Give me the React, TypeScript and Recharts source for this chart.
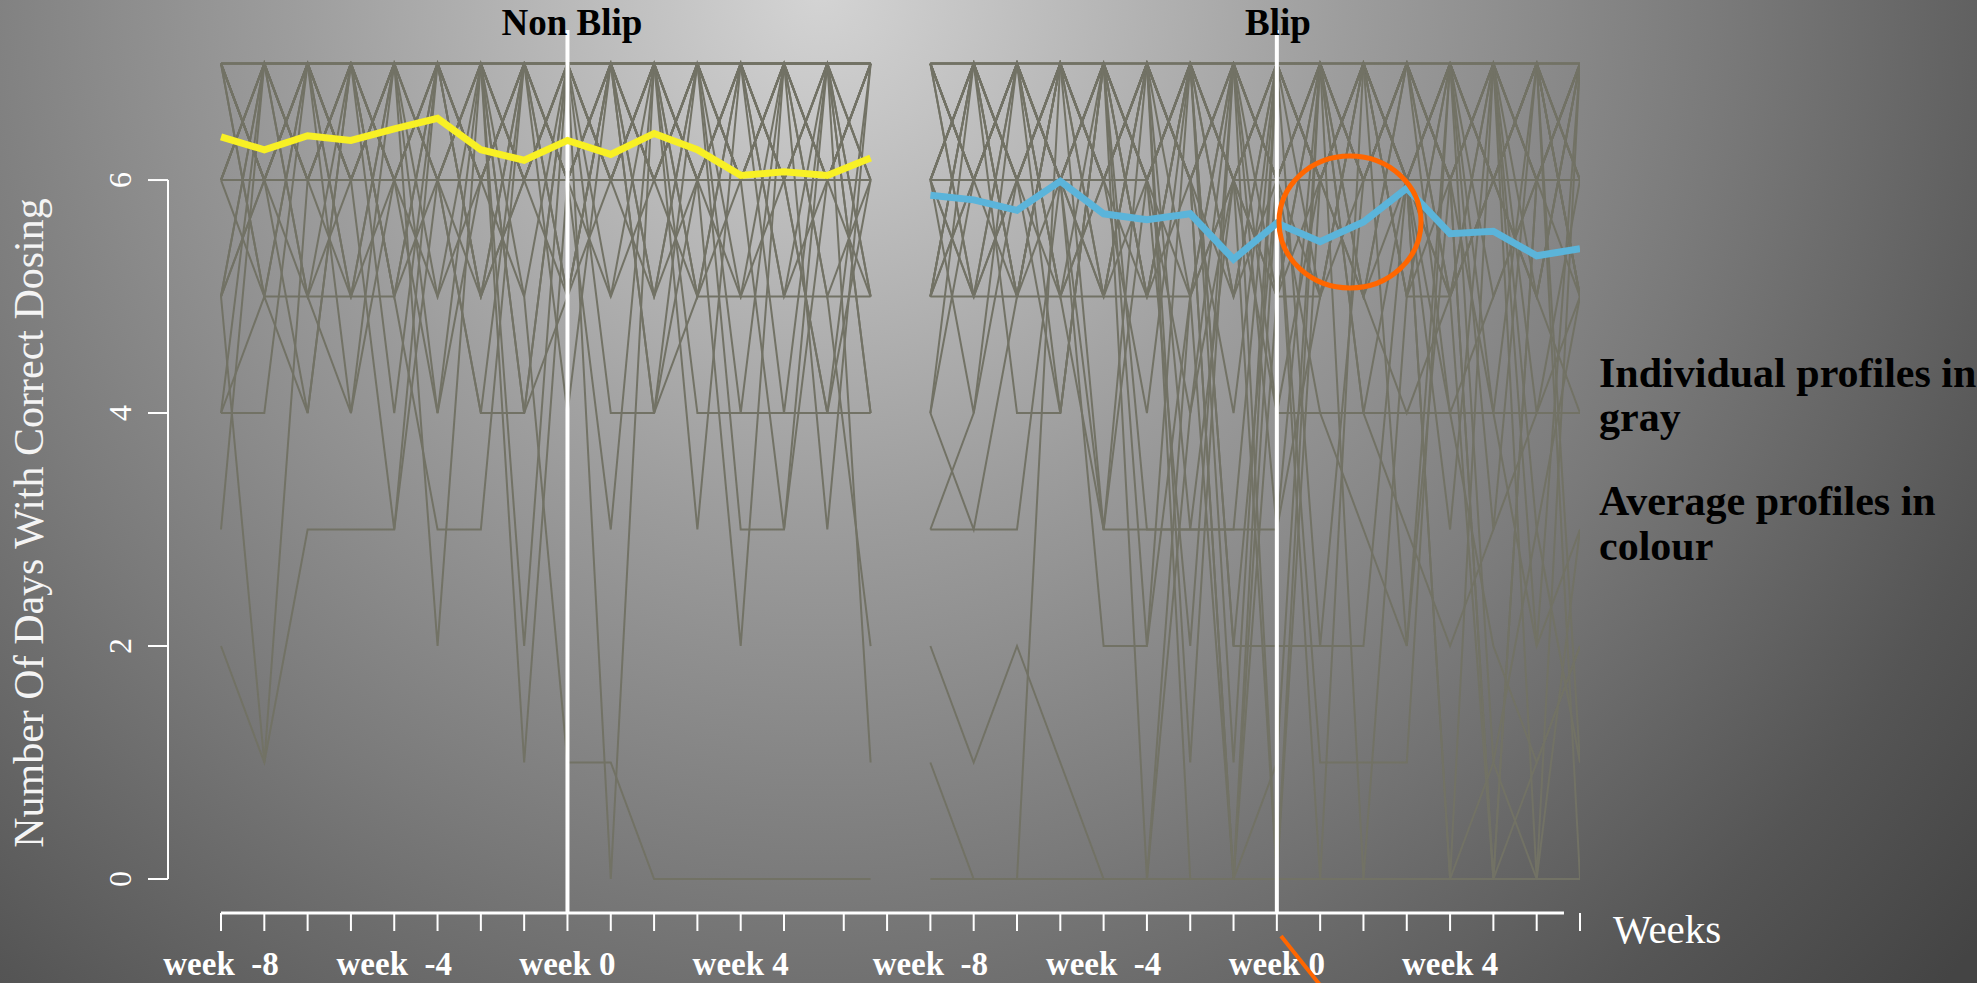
import React from "react";
import { LineChart, Line, XAxis, YAxis, ReferenceLine } from "recharts";

// weeks around the blip (week 0)
const weeks = [-8, -7, -6, -5, -4, -3, -2, -1, 0, 1, 2, 3, 4, 5, 6, 7];

// average profiles
const nonBlipMean = [6.37, 6.26, 6.38, 6.34, 6.44, 6.53, 6.26, 6.17, 6.34, 6.22, 6.4, 6.26, 6.04, 6.07, 6.04, 6.19];
const blipMean = [5.87, 5.83, 5.74, 5.99, 5.71, 5.66, 5.71, 5.32, 5.63, 5.47, 5.64, 5.93, 5.54, 5.56, 5.35, 5.41];

// individual profiles (days with correct dosing per week)
const nonBlipProfiles = [
  [7, 7, 7, 7, 7, 7, 7, 7, 7, 7, 7, 7, 7, 7, 7, 7],
  [7, 6, 7, 6, 7, 7, 6, 7, 7, 6, 7, 7, 6, 7, 7, 7],
  [6, 7, 6, 7, 6, 7, 7, 6, 7, 7, 6, 7, 7, 6, 7, 6],
  [7, 6, 6, 6, 6, 6, 6, 6, 6, 6, 6, 6, 6, 6, 6, 6],
  [5, 7, 7, 6, 7, 6, 7, 7, 5, 7, 7, 6, 7, 7, 6, 7],
  [7, 5, 5, 5, 5, 7, 6, 7, 6, 7, 7, 5, 5, 5, 5, 5],
  [4, 4, 7, 6, 7, 5, 6, 7, 7, 4, 4, 5, 6, 7, 6, 7],
  [6, 7, 5, 7, 5, 6, 4, 4, 7, 6, 7, 4, 4, 4, 4, 4],
  [2, 1, 3, 3, 3, 6, 5, 7, 7, 6, 7, 7, 6, 7, 7, 7],
  [7, 6, 7, 7, 5, 3, 3, 7, 6, 7, 6, 7, 7, 6, 6, 7],
  [6, 7, 7, 6, 7, 7, 5, 6, 7, 6, 5, 7, 3, 3, 6, 7],
  [5, 1, 6, 7, 6, 7, 7, 1, 6, 7, 7, 6, 7, 7, 5, 2],
  [7, 7, 6, 5, 7, 2, 7, 6, 7, 0, 7, 7, 6, 7, 7, 6],
  [6, 6, 7, 7, 4, 7, 7, 5, 7, 7, 7, 6, 2, 7, 7, 1],
  [4, 5, 4, 7, 6, 7, 6, 7, 6, 5, 6, 7, 7, 5, 7, 4],
  [7, 6, 5, 4, 7, 6, 7, 4, 5, 7, 6, 5, 7, 6, 4, 7],
  [5, 7, 6, 7, 6, 4, 6, 7, 7, 7, 4, 7, 6, 7, 5, 6],
  [7, 6, 7, 6, 7, 7, 6, 5, 1, 1, 0, 0, 0, 0, 0, 0],
  [6, 6, 7, 5, 6, 7, 7, 7, 6, 7, 5, 6, 7, 4, 7, 5],
  [7, 7, 7, 6, 6, 5, 7, 6, 7, 6, 7, 7, 5, 6, 7, 7],
  [6, 7, 5, 6, 7, 7, 6, 7, 4, 7, 6, 7, 7, 7, 6, 6],
  [5, 6, 7, 7, 5, 7, 5, 6, 7, 6, 7, 6, 7, 6, 7, 5],
  [7, 5, 7, 5, 7, 6, 7, 6, 5, 7, 5, 7, 6, 7, 6, 7],
  [6, 7, 6, 7, 7, 6, 7, 4, 7, 6, 7, 5, 7, 7, 3, 7],
  [7, 6, 4, 7, 7, 7, 6, 7, 6, 7, 4, 6, 7, 5, 6, 7],
  [4, 7, 7, 6, 3, 7, 7, 6, 7, 7, 6, 7, 4, 7, 7, 6],
  [6, 5, 7, 4, 6, 6, 7, 7, 6, 3, 7, 6, 7, 6, 4, 6],
  [7, 7, 6, 7, 6, 7, 5, 7, 7, 5, 7, 7, 6, 3, 7, 7],
  [5, 6, 6, 7, 7, 4, 7, 6, 6, 7, 7, 3, 7, 7, 6, 5],
  [3, 7, 6, 6, 7, 7, 7, 2, 7, 7, 6, 7, 7, 6, 7, 4],
  [7, 6, 7, 7, 6, 6, 4, 7, 5, 6, 7, 6, 5, 7, 7, 7],
];

const blipProfiles = [
  [7, 7, 7, 7, 7, 7, 7, 7, 7, 7, 7, 7, 7, 7, 7, 7],
  [6, 6, 6, 6, 6, 6, 7, 6, 6, 6, 6, 6, 6, 6, 6, 6],
  [7, 5, 5, 5, 5, 5, 5, 7, 5, 5, 7, 5, 5, 7, 6, 7],
  [6, 7, 4, 4, 7, 6, 7, 6, 4, 4, 4, 4, 4, 4, 4, 4],
  [3, 3, 3, 6, 3, 3, 3, 3, 7, 6, 5, 7, 6, 7, 7, 6],
  [0, 0, 0, 0, 0, 0, 0, 0, 0, 0, 0, 0, 0, 0, 0, 0],
  [7, 6, 7, 6, 2, 2, 7, 2, 2, 2, 2, 6, 7, 6, 7, 7],
  [5, 7, 6, 7, 5, 7, 6, 7, 6, 1, 1, 1, 7, 6, 5, 7],
  [2, 1, 2, 1, 0, 0, 4, 6, 7, 6, 7, 5, 6, 7, 6, 6],
  [4, 3, 5, 7, 6, 7, 5, 6, 0, 6, 7, 6, 5, 6, 7, 5],
  [1, 0, 0, 7, 6, 7, 6, 5, 7, 6, 7, 7, 6, 6, 5, 7],
  [6, 5, 7, 6, 7, 3, 3, 3, 3, 7, 6, 7, 6, 0, 6, 7],
  [5, 6, 7, 7, 6, 7, 0, 0, 5, 6, 7, 6, 0, 7, 6, 7],
  [6, 7, 6, 7, 6, 7, 6, 0, 6, 7, 6, 7, 6, 0, 1, 2],
  [7, 6, 5, 6, 7, 6, 5, 0, 7, 7, 5, 4, 5, 6, 7, 5],
  [5, 7, 7, 5, 7, 6, 7, 6, 5, 7, 6, 7, 7, 6, 5, 7],
  [6, 5, 6, 7, 5, 7, 6, 7, 6, 5, 7, 6, 7, 7, 6, 6],
  [7, 7, 6, 5, 6, 5, 7, 5, 7, 6, 6, 7, 5, 6, 7, 6],
  [6, 6, 7, 7, 7, 6, 2, 7, 6, 7, 7, 5, 7, 5, 6, 7],
  [7, 6, 7, 4, 7, 7, 6, 4, 7, 5, 6, 7, 6, 7, 4, 6],
  [4, 7, 6, 7, 6, 4, 7, 7, 6, 7, 4, 6, 7, 6, 7, 7],
  [3, 4, 6, 6, 5, 6, 7, 6, 5, 7, 6, 7, 4, 5, 6, 5],
  [7, 5, 7, 6, 7, 5, 6, 7, 4, 6, 7, 7, 6, 7, 5, 4],
  [6, 7, 5, 7, 6, 7, 7, 6, 7, 6, 5, 7, 7, 3, 7, 6],
  [5, 6, 7, 6, 7, 6, 4, 7, 6, 7, 6, 6, 3, 7, 6, 7],
  [7, 6, 6, 7, 3, 7, 6, 7, 6, 0, 7, 6, 7, 6, 7, 1],
  [6, 7, 7, 6, 7, 0, 5, 6, 7, 7, 0, 5, 7, 7, 0, 7],
  [7, 7, 6, 7, 6, 6, 7, 1, 7, 6, 7, 6, 5, 0, 6, 7],
  [6, 7, 7, 6, 5, 7, 1, 7, 7, 6, 7, 2, 7, 6, 7, 0],
  [5, 5, 6, 7, 7, 6, 7, 7, 0, 7, 5, 6, 7, 4, 7, 5],
  [7, 6, 7, 5, 6, 7, 6, 7, 6, 7, 6, 7, 6, 6, 7, 6],
  [6, 7, 6, 7, 7, 5, 7, 6, 7, 7, 6, 7, 6, 7, 2, 7],
  [7, 6, 7, 6, 7, 7, 7, 7, 7, 6, 7, 6, 7, 1, 0, 3],
  [6, 7, 5, 7, 6, 7, 6, 0, 1, 7, 7, 6, 7, 7, 7, 5],
  [7, 6, 7, 6, 7, 6, 7, 6, 7, 6, 7, 6, 0, 1, 3, 5],
  [4, 6, 7, 5, 3, 6, 7, 2, 6, 7, 4, 3, 2, 3, 4, 5],
  [6, 4, 7, 6, 7, 2, 5, 7, 3, 5, 7, 6, 4, 2, 1, 2],
  [7, 7, 5, 7, 6, 7, 3, 6, 7, 2, 6, 7, 5, 7, 3, 1],
  [5, 7, 6, 4, 7, 5, 7, 5, 6, 4, 3, 2, 6, 4, 2, 3],
];

// axis ticks (weeks); the blip panel is drawn shifted to the right
const nonBlipTickWeeks = [-8, -7, -6, -5, -4, -3, -2, -1, 0, 1, 2, 3, 4, 5];
const blipTickWeeks = [-10, -9, -8, -7, -6, -5, -4, -3, -2, -1, 0, 1, 2, 3, 4, 5, 6, 7];
const labelWeeks = [-8, -4, 0, 4];
const tickLabels = ["week  -8", "week  -4", "week 0", "week 4"];
const yTicks = [0, 2, 4, 6];

const BLIP_SHIFT = 16.38;
const X_MIN = -9.224;
const X_MAX = 23.38;
const X_AXIS_END = 23.01;
const Y_MIN = -0.292;
const Y_MAX = 7.288;

const SERIF = "'Liberation Serif', 'Times New Roman', Times, serif";
const GRAY = "#727265";

const toRows = (values: number[], shift: number) =>
  values.map((v, i) => ({ x: weeks[i] + shift, y: v }));

const xTicks = [
  ...nonBlipTickWeeks.map((w) => ({ value: w, week: w })),
  ...blipTickWeeks.map((w) => ({ value: w + BLIP_SHIFT, week: w })),
];

function labelFor(value: number) {
  const t = xTicks.find((k) => Math.abs(k.value - value) < 1e-6);
  if (!t) return "";
  const idx = labelWeeks.indexOf(t.week);
  return idx >= 0 ? tickLabels[idx] : "";
}

const XTick = (props: any) => {
  const { x, payload } = props;
  const label = labelFor(payload.value);
  if (!label) return null;
  return (
    <text
      x={x}
      y={975}
      textAnchor="middle"
      fontFamily={SERIF}
      fontWeight="bold"
      fontSize={33}
      fill="#ffffff"
      xmlSpace="preserve"
      style={{ whiteSpace: "pre" }}
    >
      {label}
    </text>
  );
};

const YTick = (props: any) => {
  const { y, payload } = props;
  return (
    <text
      transform={`translate(131, ${y}) rotate(-90)`}
      textAnchor="middle"
      fontFamily={SERIF}
      fontSize={32}
      fill="#ffffff"
    >
      {payload.value}
    </text>
  );
};

export default function App() {
  return (
    <div style={{ position: "absolute", left: 0, top: 0, width: 1977, height: 983, overflow: "hidden" }}>
      <svg width={1977} height={983} style={{ position: "absolute", left: 0, top: 0 }}>
        <defs>
          <radialGradient id="bg" gradientUnits="userSpaceOnUse" cx={820} cy={-10} r={1500}>
            <stop offset="0" stopColor="#d4d4d4" />
            <stop offset="0.35" stopColor="#9d9d9d" />
            <stop offset="0.6" stopColor="#7a7a7a" />
            <stop offset="0.85" stopColor="#555555" />
            <stop offset="1" stopColor="#444444" />
          </radialGradient>
        </defs>
        <rect x={0} y={0} width={1977} height={983} fill="url(#bg)" />
      </svg>

      <div style={{ position: "absolute", left: 0, top: 0 }}>
        <LineChart width={1977} height={983} margin={{ top: 30, right: 397, bottom: 0, left: 0 }}>
          <XAxis
            type="number"
            dataKey="x"
            domain={[X_MIN, X_MAX]}
            allowDataOverflow
            ticks={xTicks.map((t) => t.value)}
            interval={0}
            height={70}
            tickSize={18}
            axisLine={false}
            tickLine={{ stroke: "#ffffff", strokeWidth: 2 }}
            tick={(p: any) => <XTick {...p} />}
          />
          <YAxis
            type="number"
            domain={[Y_MIN, Y_MAX]}
            allowDataOverflow
            ticks={yTicks}
            width={168}
            tickSize={20}
            axisLine={false}
            tickLine={{ stroke: "#ffffff", strokeWidth: 2 }}
            tick={(p: any) => <YTick {...p} />}
          />

          {nonBlipProfiles.map((p, i) => (
            <Line
              key={`nb${i}`}
              data={toRows(p, 0)}
              dataKey="y"
              type="linear"
              stroke={GRAY}
              strokeWidth={2}
              dot={false}
              activeDot={false}
              isAnimationActive={false}
            />
          ))}
          {blipProfiles.map((p, i) => (
            <Line
              key={`b${i}`}
              data={toRows(p, BLIP_SHIFT)}
              dataKey="y"
              type="linear"
              stroke={GRAY}
              strokeWidth={2}
              dot={false}
              activeDot={false}
              isAnimationActive={false}
            />
          ))}

          <ReferenceLine x={0} stroke="#ffffff" strokeWidth={4} />
          <ReferenceLine x={BLIP_SHIFT} stroke="#ffffff" strokeWidth={4} />
          <ReferenceLine
            segment={[{ x: X_MIN, y: 0 }, { x: X_MIN, y: 6 }]}
            stroke="#ffffff"
            strokeWidth={2}
            ifOverflow="visible"
          />
          <ReferenceLine
            segment={[{ x: -8, y: Y_MIN }, { x: X_AXIS_END, y: Y_MIN }]}
            stroke="#ffffff"
            strokeWidth={3}
            ifOverflow="visible"
          />

          <Line
            data={toRows(nonBlipMean, 0)}
            dataKey="y"
            type="linear"
            stroke="#f8f025"
            strokeWidth={7}
            dot={false}
            activeDot={false}
            isAnimationActive={false}
          />
          <Line
            data={toRows(blipMean, BLIP_SHIFT)}
            dataKey="y"
            type="linear"
            stroke="#5bb4da"
            strokeWidth={7}
            dot={false}
            activeDot={false}
            isAnimationActive={false}
          />
        </LineChart>
      </div>

      <svg width={1977} height={983} style={{ position: "absolute", left: 0, top: 0, pointerEvents: "none" }}>
        <text x={572} y={35} textAnchor="middle" fontFamily={SERIF} fontWeight="bold" fontSize={37} fill="#000">
          Non Blip
        </text>
        <text x={1278} y={35} textAnchor="middle" fontFamily={SERIF} fontWeight="bold" fontSize={37} fill="#000">
          Blip
        </text>
        <text
          transform="translate(43, 523) rotate(-90)"
          textAnchor="middle"
          fontFamily={SERIF}
          fontSize={42}
          fill="#f4f4f4"
        >
          Number Of Days With Correct Dosing
        </text>
        <text x={1613} y={943} fontFamily={SERIF} fontSize={41} fill="#ffffff">
          Weeks
        </text>
        <g fontFamily={SERIF} fontWeight="bold" fontSize={42} fill="#000">
          <text x={1599} y={387}>Individual profiles in</text>
          <text x={1599} y={431}>gray</text>
          <text x={1599} y={515}>Average profiles in</text>
          <text x={1599} y={560}>colour</text>
        </g>
        <ellipse cx={1350} cy={222} rx={71} ry={66} fill="none" stroke="#ff6600" strokeWidth={5} />
        <line x1={1281} y1={936} x2={1324} y2={990} stroke="#ff6600" strokeWidth={4} />
      </svg>
    </div>
  );
}
